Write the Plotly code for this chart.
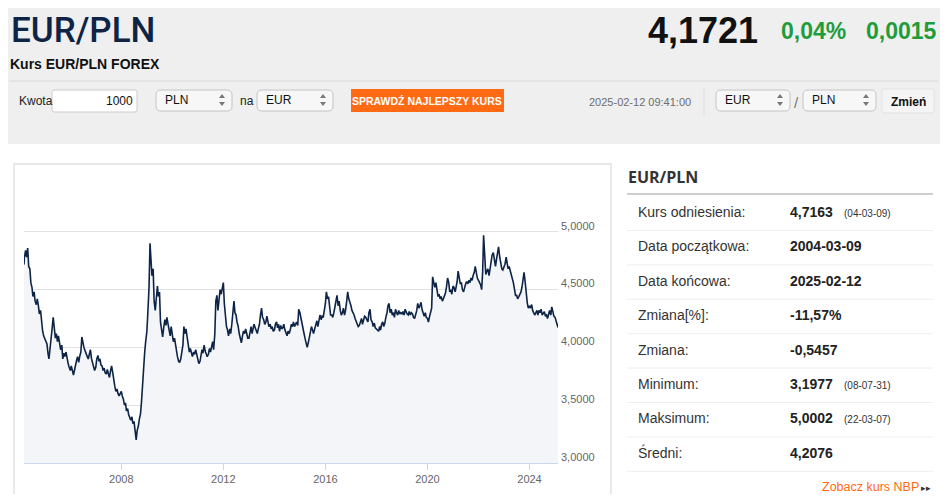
import pandas as pd
import plotly.graph_objects as go

# EUR/PLN, semi-monthly readings (1st and 15th) taken off the reference chart
v2004 = [4.7163, 4.78, 4.84, 4.78, 4.86, 4.70, 4.68, 4.56, 4.52, 4.44, 4.48, 4.40, 4.37, 4.42, 4.36, 4.29, 4.32, 4.20, 4.14, 4.10]
v2005 = [4.08, 4.06, 4.03, 3.95, 3.90, 3.98, 4.12, 4.16, 4.26, 4.18, 4.08, 4.12, 4.05, 4.10, 4.05, 3.98, 4.02, 3.90, 3.95, 3.92, 3.96, 3.90, 3.86, 3.83]
v2006 = [3.80, 3.84, 3.78, 3.76, 3.80, 3.86, 3.89, 3.92, 3.87, 3.92, 3.96, 4.09, 4.02, 4.00, 3.97, 3.94, 3.92, 3.90, 3.94, 3.98, 3.90, 3.87, 3.82, 3.80]
v2007 = [3.83, 3.90, 3.93, 3.88, 3.90, 3.85, 3.84, 3.80, 3.82, 3.78, 3.77, 3.81, 3.77, 3.74, 3.80, 3.84, 3.78, 3.70, 3.66, 3.62, 3.64, 3.60, 3.58, 3.60]
v2008 = [3.62, 3.58, 3.55, 3.50, 3.52, 3.45, 3.47, 3.42, 3.40, 3.37, 3.40, 3.34, 3.36, 3.25, 3.20, 3.28, 3.32, 3.38, 3.42, 3.52, 3.72, 3.78, 3.96, 4.05]
v2009 = [4.14, 4.30, 4.52, 4.90, 4.70, 4.62, 4.68, 4.40, 4.32, 4.45, 4.53, 4.44, 4.48, 4.22, 4.12, 4.09, 4.18, 4.24, 4.19, 4.26, 4.20, 4.14, 4.10, 4.18]
v2010 = [4.10, 4.05, 4.08, 4.02, 3.98, 3.92, 3.88, 3.87, 3.90, 3.95, 4.02, 4.18, 4.12, 4.16, 4.08, 4.00, 3.96, 3.99, 3.95, 3.92, 3.96, 3.94, 3.98, 3.95]
v2011 = [3.90, 3.86, 3.88, 3.94, 3.98, 3.95, 4.02, 3.97, 3.95, 3.92, 3.94, 3.99, 3.96, 4.00, 4.05, 3.98, 4.12, 4.40, 4.45, 4.32, 4.40, 4.50, 4.46, 4.52]
v2012 = [4.56, 4.38, 4.24, 4.18, 4.15, 4.10, 4.16, 4.12, 4.20, 4.28, 4.40, 4.30, 4.28, 4.22, 4.18, 4.12, 4.08, 4.04, 4.10, 4.14, 4.12, 4.16, 4.12, 4.08]
v2013 = [4.08, 4.14, 4.18, 4.12, 4.16, 4.20, 4.17, 4.14, 4.12, 4.16, 4.20, 4.28, 4.34, 4.26, 4.24, 4.20, 4.22, 4.27, 4.23, 4.18, 4.20, 4.16, 4.18, 4.14]
v2014 = [4.15, 4.20, 4.22, 4.17, 4.20, 4.14, 4.19, 4.16, 4.17, 4.20, 4.15, 4.13, 4.10, 4.14, 4.12, 4.15, 4.20, 4.18, 4.22, 4.18, 4.20, 4.22, 4.19, 4.33]
v2015 = [4.30, 4.25, 4.20, 4.16, 4.12, 4.08, 4.02, 4.00, 4.04, 4.08, 4.12, 4.18, 4.15, 4.12, 4.16, 4.20, 4.23, 4.18, 4.25, 4.28, 4.24, 4.27, 4.26, 4.30]
v2016 = [4.38, 4.48, 4.42, 4.44, 4.35, 4.28, 4.28, 4.26, 4.30, 4.36, 4.40, 4.45, 4.36, 4.40, 4.32, 4.28, 4.30, 4.34, 4.28, 4.32, 4.40, 4.48, 4.42, 4.40]
v2017 = [4.36, 4.32, 4.30, 4.28, 4.25, 4.23, 4.20, 4.18, 4.19, 4.22, 4.25, 4.20, 4.24, 4.27, 4.26, 4.24, 4.22, 4.30, 4.33, 4.24, 4.22, 4.18, 4.21, 4.17]
v2018 = [4.16, 4.15, 4.14, 4.18, 4.15, 4.20, 4.22, 4.18, 4.21, 4.26, 4.30, 4.36, 4.38, 4.30, 4.33, 4.28, 4.30, 4.26, 4.33, 4.30, 4.28, 4.32, 4.29, 4.30]
v2019 = [4.29, 4.31, 4.28, 4.33, 4.30, 4.29, 4.28, 4.31, 4.28, 4.30, 4.29, 4.26, 4.25, 4.28, 4.32, 4.38, 4.34, 4.36, 4.39, 4.33, 4.28, 4.27, 4.30, 4.26]
v2020 = [4.25, 4.22, 4.27, 4.32, 4.34, 4.61, 4.55, 4.52, 4.56, 4.48, 4.44, 4.46, 4.42, 4.44, 4.40, 4.42, 4.44, 4.47, 4.53, 4.60, 4.56, 4.48, 4.50, 4.46]
v2021 = [4.53, 4.52, 4.48, 4.52, 4.57, 4.66, 4.60, 4.55, 4.56, 4.50, 4.48, 4.53, 4.55, 4.57, 4.55, 4.58, 4.56, 4.60, 4.58, 4.62, 4.65, 4.70, 4.62, 4.60]
v2022 = [4.58, 4.56, 4.54, 4.50, 4.65, 4.97, 4.70, 4.63, 4.66, 4.68, 4.62, 4.67, 4.72, 4.80, 4.82, 4.76, 4.70, 4.76, 4.84, 4.87, 4.78, 4.72, 4.68, 4.67]
v2023 = [4.70, 4.72, 4.78, 4.72, 4.68, 4.70, 4.66, 4.62, 4.60, 4.56, 4.50, 4.45, 4.45, 4.42, 4.44, 4.46, 4.48, 4.52, 4.58, 4.65, 4.56, 4.45, 4.38, 4.34]
v2024 = [4.36, 4.34, 4.37, 4.32, 4.30, 4.28, 4.30, 4.32, 4.28, 4.32, 4.30, 4.33, 4.28, 4.29, 4.31, 4.27, 4.28, 4.25, 4.30, 4.32, 4.28, 4.35, 4.31, 4.27]
v2025 = [4.26, 4.23, 4.20, 4.1721]

rates = (v2004 + v2005 + v2006 + v2007 + v2008 + v2009 + v2010 + v2011 + v2012 + v2013
         + v2014 + v2015 + v2016 + v2017 + v2018 + v2019 + v2020 + v2021 + v2022 + v2023
         + v2024 + v2025)
dates = (["2004-03-09"]
         + [d.strftime("%Y-%m-%d") for d in pd.date_range("2004-03-15", "2025-02-01", freq="SMS")]
         + ["2025-02-12"])
assert len(dates) == len(rates)

y_ticks = [3.0, 3.5, 4.0, 4.5, 5.0, 5.5]
y_tick_text = ["3,0000", "3,5000", "4,0000", "4,5000", "5,0000", ""]

row_labels = ["Kurs odniesienia:", "Data początkowa:", "Data końcowa:", "Zmiana[%]:",
              "Zmiana:", "Minimum:", "Maksimum:", "Średni:"]
row_values = ["4,7163", "2004-03-09", "2025-02-12", "-11,57%", "-0,5457", "3,1977", "5,0002", "4,2076"]
row_notes = ["(04-03-09)", "", "", "", "", "(08-07-31)", "(22-03-07)", ""]

# the page body keeps its 8px margin on every side, so the figure is sized to what is left
OFF = 8
W, H = 948 - OFF, 502 - 2 * OFF
ARIAL = "Liberation Sans, Arial, sans-serif"
NAVY = "#0e2447"
GREEN = "#1f9c3b"
ORANGE = "#ff6a13"


def px(x):
    return (x - OFF) / W


def py(y):
    return 1 - (y - OFF) / H


fig = go.Figure()

fig.add_trace(go.Scatter(
    x=dates, y=rates, mode="lines",
    line=dict(color=NAVY, width=1.6),
    fill="tozeroy", fillcolor="#f3f5f8",
    hoverinfo="skip", showlegend=False))

shapes = []


def rect(x0, y0, x1, y1, fill, line=None, lw=1):
    shapes.append(dict(type="rect", xref="paper", yref="paper",
                       x0=px(x0), y0=py(y1), x1=px(x1), y1=py(y0),
                       fillcolor=fill, line=dict(color=line or fill, width=lw if line else 0),
                       layer="below"))


def rounded(x0, y0, x1, y1, r, fill, line):
    p = (f"M{px(x0 + r)},{py(y0)} L{px(x1 - r)},{py(y0)} Q{px(x1)},{py(y0)} {px(x1)},{py(y0 + r)} "
         f"L{px(x1)},{py(y1 - r)} Q{px(x1)},{py(y1)} {px(x1 - r)},{py(y1)} "
         f"L{px(x0 + r)},{py(y1)} Q{px(x0)},{py(y1)} {px(x0)},{py(y1 - r)} "
         f"L{px(x0)},{py(y0 + r)} Q{px(x0)},{py(y0)} {px(x0 + r)},{py(y0)} Z")
    shapes.append(dict(type="path", xref="paper", yref="paper", path=p,
                       fillcolor=fill, line=dict(color=line, width=1), layer="below"))


def hline(x0, x1, y, color, lw=1):
    shapes.append(dict(type="line", xref="paper", yref="paper",
                       x0=px(x0), x1=px(x1), y0=py(y), y1=py(y),
                       line=dict(color=color, width=lw), layer="below"))


def vline(x, y0, y1, color, lw=1):
    shapes.append(dict(type="line", xref="paper", yref="paper",
                       x0=px(x), x1=px(x), y0=py(y0), y1=py(y1),
                       line=dict(color=color, width=lw), layer="below"))


def arrows(x, y):
    # up/down chevrons of a select box
    up = f"M{px(x - 3)},{py(y - 2)} L{px(x + 3)},{py(y - 2)} L{px(x)},{py(y - 6)} Z"
    dn = f"M{px(x - 3)},{py(y + 2)} L{px(x + 3)},{py(y + 2)} L{px(x)},{py(y + 6)} Z"
    for p in (up, dn):
        shapes.append(dict(type="path", xref="paper", yref="paper", path=p,
                           fillcolor="#777777", line=dict(width=0), layer="below"))


def text(x, y, s, size, color="#333333", anchor="left", weight="normal", family=ARIAL):
    fig.add_annotation(x=px(x), y=py(y), xref="paper", yref="paper", text=s,
                       showarrow=False, xanchor=anchor, yanchor="middle",
                       font=dict(family=family, size=size, color=color, weight=weight))


# page blocks
rect(2, 144, 946, 510, "#ffffff")
rect(14, 164, 611, 520, "#ffffff", "#e8e8e8", 2)
hline(9, 938, 81, "#d9d9d9")

# header
text(9, 30, "EUR/PLN", 35, NAVY, weight=500, family="Roboto, sans-serif")
text(8, 64, "Kurs EUR/PLN FOREX", 14, "#111111", weight="bold")
text(760, 30, "4,1721", 36, "#111111", anchor="right", weight="bold")
text(779, 31, "0,04%", 23, GREEN, weight="bold")
text(939, 31, "0,0015", 23, GREEN, anchor="right", weight="bold")

# converter bar
text(17, 101, "Kwota", 12, "#222222")
rounded(52, 90, 137, 112, 2, "#ffffff", "#cccccc")
text(135, 101, "1000", 12, "#111111", anchor="right")
rounded(156, 90, 232, 111, 5, "#f7f7f7", "#c4c4c4")
text(163, 100, "PLN", 12, "#111111")
arrows(222, 100)
text(238, 101, "na", 12, "#222222")
rounded(257, 90, 333, 111, 5, "#f7f7f7", "#c4c4c4")
text(264, 100, "EUR", 12, "#111111")
arrows(323, 100)
rect(351, 89, 504, 112, ORANGE)
text(427, 101, "SPRAWDŹ NAJLEPSZY KURS", 10.5, "#ffffff", anchor="center", weight="bold")
text(693, 102, "2025-02-12 09:41:00", 11, "#6d6d6d", anchor="right")
vline(704, 88, 115, "#dddddd")
rounded(716, 90, 790, 111, 5, "#f7f7f7", "#c4c4c4")
text(723, 100, "EUR", 12, "#111111")
arrows(780, 100)
text(796, 102, "/", 15, "#777777", anchor="center")
rounded(803, 90, 876, 111, 5, "#f7f7f7", "#c4c4c4")
text(810, 100, "PLN", 12, "#111111")
arrows(866, 100)
rounded(882, 89, 934, 113, 2, "#f4f4f4", "#e2e2e2")
text(908, 102, "Zmień", 12, "#111111", anchor="center", weight="bold")

# statistics table
text(626, 177, "EUR/PLN", 16, "#333333", weight="bold", family="Open Sans, sans-serif")
hline(627, 933, 194, "#cfcfcf", 2)
row_top = 212
row_step = 34.4
for i, (lab, val, note) in enumerate(zip(row_labels, row_values, row_notes)):
    yc = row_top + i * row_step
    text(636, yc, lab, 14, "#333333")
    text(788, yc, val, 14, "#222222", weight="bold")
    if note:
        text(842, yc + 1, note, 10, "#333333")
    hline(627, 933, yc + 18.5, "#eeeeee")
text(921, 487, "Zobacz kurs NBP", 12.5, ORANGE, anchor="right")
text(933, 488, "▸▸", 9, "#333333", anchor="right")

fig.update_layout(
    width=W, height=H, autosize=False,
    margin=dict(l=0, r=0, t=0, b=0),
    paper_bgcolor="#efefef", plot_bgcolor="rgba(0,0,0,0)",
    separators=", ",
    shapes=shapes,
    showlegend=False,
    xaxis=dict(
        domain=[px(24), px(558)],
        type="date", range=[dates[0], dates[-1]],
        tick0="2008-01-01", dtick="M48", tickformat="%Y",
        showgrid=False, zeroline=False,
        showline=True, linecolor="#ccd6eb", linewidth=1,
        ticks="outside", ticklen=6, tickcolor="#ccd6eb",
        tickfont=dict(family=ARIAL, size=11, color="#666666"),
    ),
    yaxis=dict(
        domain=[py(463), py(174)],
        range=[3.0, 5.5], side="right",
        tickvals=y_ticks, ticktext=y_tick_text,
        showgrid=True, gridcolor="#e2e2e2", gridwidth=1,
        zeroline=False, showline=False, ticks="",
        ticklabelshift=-6, ticklabelstandoff=2,
        tickfont=dict(family=ARIAL, size=11, color="#666666"),
    ),
)

fig.write_html("out.html")
